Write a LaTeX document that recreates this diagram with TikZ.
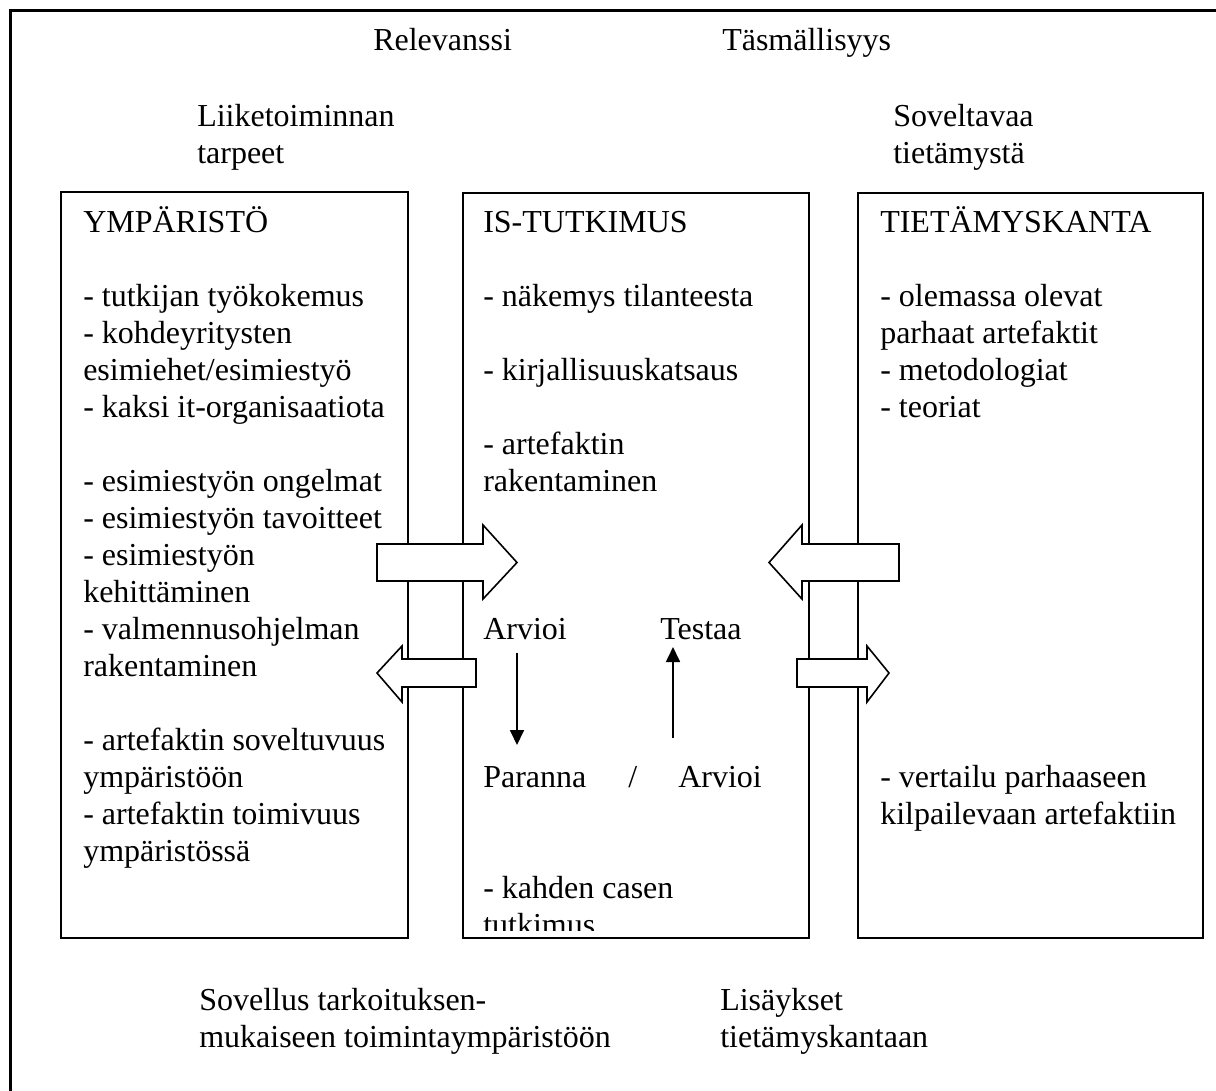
\documentclass[tikz,border=0pt]{standalone}
\usepackage{fontspec}
\setmainfont{Liberation Serif}
\usetikzlibrary{arrows.meta}
\begin{document}
\begin{tikzpicture}[x=0.75pt,y=-0.75pt,
  lbl/.style={anchor=base west, inner sep=0pt, font=\fontsize{24}{27.75}\selectfont},
  panel/.style={draw, line width=1.2pt},
  blockarrow/.style={draw, fill=white, line width=1.2pt, line join=miter},
  thinarrow/.style={line width=1.3pt, -{Triangle[width=10.5pt,length=11.25pt]}}]
\useasboundingbox (0,0) rectangle (1216,1090);

% outer frame (continues past the page edge on the right and bottom)
\draw[line width=2.4pt] (10.5,1100) -- (10.5,10.5) -- (1230,10.5);

% headings above and below the panels
\node[lbl] (rel) at (373,50) {Relevanssi};
\node[lbl] (tas) at (722,50) {Täsmällisyys};
\node[lbl] (liike) at (197,126) {\begin{tabular}[t]{@{}l@{}}Liiketoiminnan\\ tarpeet\end{tabular}};
\node[lbl] (sovt) at (893,126) {\begin{tabular}[t]{@{}l@{}}Soveltavaa\\ tietämystä\end{tabular}};
\node[lbl] (sovellus) at (199,1010) {\begin{tabular}[t]{@{}l@{}}Sovellus tarkoituksen-\\ mukaiseen toimintaympäristöön\end{tabular}};
\node[lbl] (lis) at (720,1010) {\begin{tabular}[t]{@{}l@{}}Lisäykset\\ tietämyskantaan\end{tabular}};

% three panels
\draw[panel] (61,192) rectangle (408,938);
\draw[panel] (463,193) rectangle (809,938);
\draw[panel] (858,193) rectangle (1203,938);

% left panel
\node[lbl] (env) at (83,232) {\begin{tabular}[t]{@{}l@{}}
YMPÄRISTÖ\\ \\
- tutkijan työkokemus\\
- kohdeyritysten\\
esimiehet/esimiestyö\\
- kaksi it-organisaatiota\\ \\
- esimiestyön ongelmat\\
- esimiestyön tavoitteet\\
- esimiestyön\\
kehittäminen\\
- valmennusohjelman\\
rakentaminen\\ \\
- artefaktin soveltuvuus\\
ympäristöön\\
- artefaktin toimivuus\\
ympäristössä
\end{tabular}};

% middle panel, text clipped at the panel's lower edge
\begin{scope}
\clip (463,193) rectangle (809,930);
\node[lbl] (is) at (483,232) {\begin{tabular}[t]{@{}l@{}}
IS-TUTKIMUS\\ \\
- näkemys tilanteesta\\ \\
- kirjallisuuskatsaus\\ \\
- artefaktin\\
rakentaminen
\end{tabular}};
\node[lbl] (arv1) at (483,639) {Arvioi};
\node[lbl] (testaa) at (660,639) {Testaa};
\node[lbl] (paranna) at (483,787) {Paranna};
\node[lbl] (slash) at (628,787) {/};
\node[lbl] (arv2) at (678,787) {Arvioi};
\node[lbl] (case) at (483,898) {\begin{tabular}[t]{@{}l@{}}
- kahden casen\\
tutkimus
\end{tabular}};
\end{scope}

% right panel
\node[lbl] (kb) at (880,232) {\begin{tabular}[t]{@{}l@{}}
TIETÄMYSKANTA\\ \\
- olemassa olevat\\
parhaat artefaktit\\
- metodologiat\\
- teoriat
\end{tabular}};
\node[lbl] (vert) at (880,787) {\begin{tabular}[t]{@{}l@{}}
- vertailu parhaaseen\\
kilpailevaan artefaktiin
\end{tabular}};

% block arrows between the panels
\draw[blockarrow] (377,544) -- (483,544) -- (483,525) -- (517,562.5) -- (483,599) -- (483,581) -- (377,581) -- cycle;
\draw[blockarrow] (377,673) -- (402,646) -- (402,659) -- (476,659) -- (476,687) -- (402,687) -- (402,702) -- cycle;
\draw[blockarrow] (769,562.5) -- (802,525) -- (802,544) -- (899,544) -- (899,581) -- (802,581) -- (802,599) -- cycle;
\draw[blockarrow] (797,659) -- (867,659) -- (867,646) -- (889,673) -- (867,702) -- (867,687) -- (797,687) -- cycle;

% evaluation cycle arrows
\coordinate (downA) at (517,653);
\coordinate (downB) at (517,745);
\coordinate (upA) at (673,738);
\coordinate (upB) at (673,647);
\draw[thinarrow] (downA) -- (downB);
\draw[thinarrow] (upA) -- (upB);
\end{tikzpicture}
\end{document}
